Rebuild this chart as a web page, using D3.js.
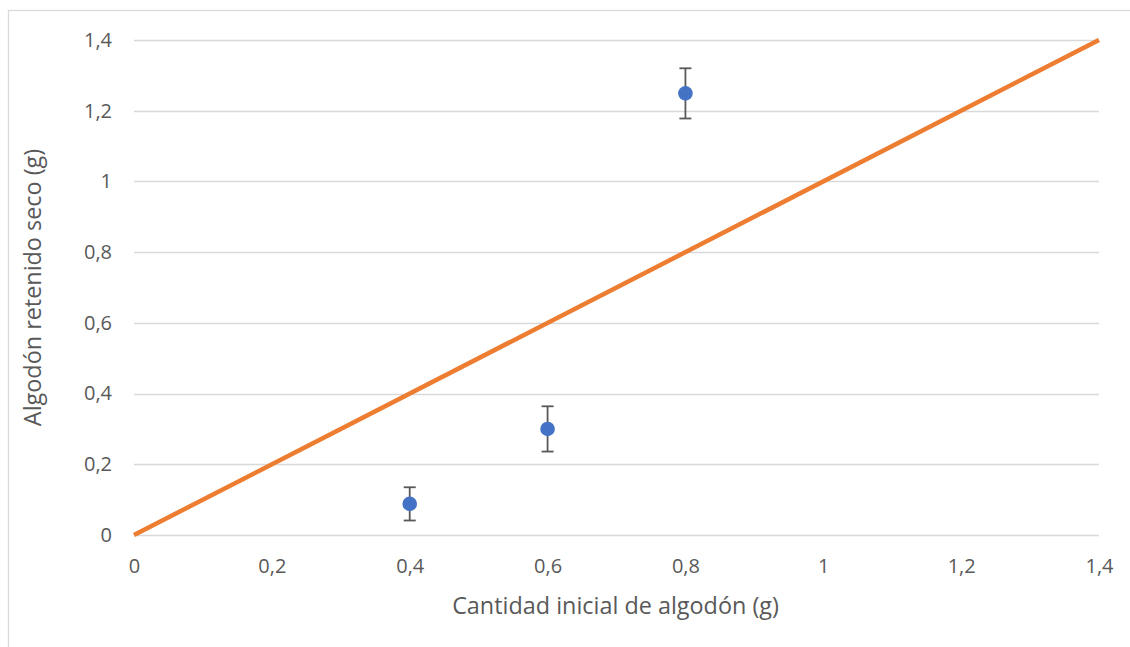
<!DOCTYPE html>
<html>
<head>
<meta charset="utf-8">
<script src="https://cdn.jsdelivr.net/npm/d3@7"></script>
<style>
  body { margin: 0; background: #fff; }
  text { font-family: "Open Sans", "Liberation Sans", sans-serif; fill: #595959; }
</style>
</head>
<body>
<div id="chart"></div>
<script>
// data
const xTicks = [0, 0.2, 0.4, 0.6, 0.8, 1, 1.2, 1.4];
const yTicks = [0, 0.2, 0.4, 0.6, 0.8, 1, 1.2, 1.4];
const pointX = [0.4, 0.6, 0.8];
const pointY = [0.088, 0.300, 1.249];
const pointErr = [0.047, 0.064, 0.071];
const lineX = [0, 1.4];
const lineY = [0, 1.4];

const W = 1130, H = 647;
const margin = { top: 40, right: 31, bottom: 112, left: 134 },
      width = W - margin.left - margin.right,
      height = H - margin.top - margin.bottom;

const root = d3.select("#chart")
  .append("svg")
  .attr("width", W)
  .attr("height", H);

// outer chart border
root.append("rect")
  .attr("x", 8.5)
  .attr("y", 10.5)
  .attr("width", W + 10)
  .attr("height", H + 10)
  .attr("fill", "none")
  .attr("stroke", "#d9d9d9")
  .attr("stroke-width", 1.3);

const svg = root.append("g")
  .attr("transform", `translate(${margin.left},${margin.top})`);

const x = d3.scaleLinear().domain([0, 1.4]).range([0, width]);
const y = d3.scaleLinear().domain([0, 1.4]).range([height, 0]);

const fmt = d => d3.format("~g")(d).replace(".", ",");

// gridlines
svg.append("g")
  .selectAll("line")
  .data(yTicks)
  .enter()
  .append("line")
  .attr("x1", 0)
  .attr("x2", width)
  .attr("y1", d => Math.round(y(d)) + 0.5)
  .attr("y2", d => Math.round(y(d)) + 0.5)
  .attr("stroke", "#d9d9d9")
  .attr("stroke-width", 1.3);

// y tick labels
const yAxis = svg.append("g")
  .call(d3.axisLeft(y).tickValues(yTicks).tickFormat(fmt).tickSize(0).tickPadding(22));
yAxis.select(".domain").remove();
yAxis.selectAll("text")
  .style("font-size", "20px")
  .attr("fill", "#595959")
  .style("font-family", null);

// x tick labels
const xAxis = svg.append("g")
  .attr("transform", `translate(0, ${height})`)
  .call(d3.axisBottom(x).tickValues(xTicks).tickFormat(fmt).tickSize(0).tickPadding(23.5));
xAxis.select(".domain").remove();
xAxis.selectAll("text")
  .style("font-size", "20px")
  .attr("fill", "#595959")
  .style("font-family", null);

// axis titles
svg.append("text")
  .attr("x", width / 2 - 1)
  .attr("y", height + 79)
  .attr("text-anchor", "middle")
  .style("font-size", "23.4px")
  .text("Cantidad inicial de algodón (g)");

svg.append("text")
  .attr("transform", "rotate(-90)")
  .attr("x", -height / 2)
  .attr("y", -93)
  .attr("text-anchor", "middle")
  .style("font-size", "23.4px")
  .text("Algodón retenido seco (g)");

// reference line
const lineData = lineX.map((v, i) => ({ x: v, y: lineY[i] }));
svg.append("path")
  .datum(lineData)
  .attr("fill", "none")
  .attr("stroke", "#ED7D31")
  .attr("stroke-width", 4.5)
  .attr("d", d3.line().x(d => x(d.x)).y(d => y(d.y)));

// points with error bars
const points = pointX.map((v, i) => ({ x: v, y: pointY[i], e: pointErr[i] }));

const err = svg.append("g")
  .attr("stroke", "#595959")
  .attr("stroke-width", 1.8);

points.forEach(d => {
  err.append("line")
    .attr("x1", x(d.x)).attr("x2", x(d.x))
    .attr("y1", y(d.y + d.e)).attr("y2", y(d.y - d.e));
  [d.y + d.e, d.y - d.e].forEach(v => {
    err.append("line")
      .attr("x1", x(d.x) - 6).attr("x2", x(d.x) + 6)
      .attr("y1", y(v)).attr("y2", y(v));
  });
});

svg.selectAll(".dot")
  .data(points)
  .enter()
  .append("circle")
  .attr("cx", d => x(d.x))
  .attr("cy", d => y(d.y))
  .attr("r", 7.3)
  .attr("fill", "#4472C4");
</script>
</body>
</html>
